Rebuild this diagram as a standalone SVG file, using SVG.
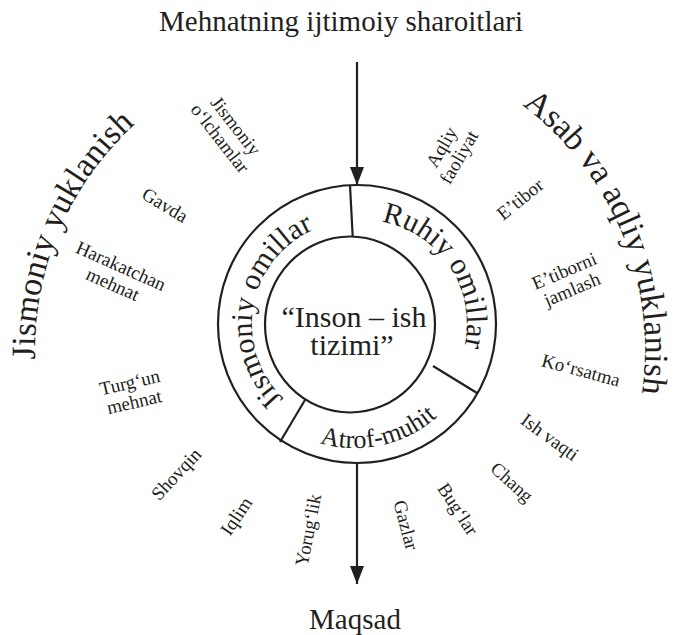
<svg xmlns="http://www.w3.org/2000/svg" width="676" height="635" viewBox="0 0 676 635">
<style>
text{font-family:"Liberation Serif","Times New Roman",serif;fill:#231f20}
.lbl{font-size:19px;text-anchor:middle}
.ring{font-size:30px}
.big{font-size:34px}
.ln{stroke:#231f20;stroke-width:2.2;fill:none}
</style>
<defs>
<marker id="ah" markerUnits="userSpaceOnUse" markerWidth="18" markerHeight="14" refX="18" refY="7" orient="auto">
<path d="M0,0 L18,7 L0,14 Z" fill="#231f20"/>
</marker>
<path id="pJO" d="M328.3,423.5 A103,103 0 0 1 364.0,221.4"/>
<path id="pRO" d="M313.4,232.6 A104,104 0 0 1 427.7,405.4"/>
<path id="pAM" d="M236.7,361.3 A124,124 0 0 0 477.9,307.8"/>
<path id="pJY" d="M96.4,533.5 A305,305 0 0 1 302.8,47.3"/>
<path id="pAY" d="M379.3,47.5 A305,305 0 0 1 582.3,535.3"/>
</defs>

<g id="title"><text x="341" y="31" font-size="29" text-anchor="middle">Mehnatning ijtimoiy sharoitlari</text></g>
<g id="goal"><text x="355" y="629" font-size="29" text-anchor="middle">Maqsad</text></g>

<g id="connectors">
<line class="ln" x1="357" y1="62" x2="357" y2="185" marker-end="url(#ah)"/>
<line class="ln" x1="357" y1="463" x2="357" y2="584" marker-end="url(#ah)"/>
</g>

<g id="ring">
<circle class="ln" cx="357" cy="324" r="139" stroke-width="2.6"/>
<ellipse class="ln" cx="350" cy="324.5" rx="85" ry="88" stroke-width="2.6"/>
<line class="ln" x1="350" y1="185.5" x2="352.7" y2="236.5"/>
<line class="ln" x1="433" y1="366" x2="477" y2="393"/>
<line class="ln" x1="305" y1="400" x2="280" y2="442"/>
</g>

<g id="center"><text x="354" y="327" font-size="30" text-anchor="middle">“Inson – ish</text><text x="352" y="355" font-size="30" text-anchor="middle">tizimi”</text></g>

<g id="jismoniy-omillar"><text class="ring"><textPath href="#pJO" startOffset="50%" text-anchor="middle">Jismoniy omillar</textPath></text></g>
<g id="ruhiy-omillar"><text class="ring"><textPath href="#pRO" startOffset="50%" text-anchor="middle">Ruhiy omillar</textPath></text></g>
<g id="atrof-muhit"><text class="ring" font-size="26"><textPath href="#pAM" startOffset="50%" text-anchor="middle" font-size="26">Atrof-muhit</textPath></text></g>

<g id="jismoniy-yuklanish"><text class="big"><textPath href="#pJY" startOffset="50%" text-anchor="middle">Jismoniy yuklanish</textPath></text></g>
<g id="asab-yuklanish"><text class="big"><textPath href="#pAY" startOffset="50%" text-anchor="middle">Asab va aqliy yuklanish</textPath></text></g>

<g id="n-olchamlar"><text class="lbl" transform="translate(228,132) rotate(52)"><tspan x="0" y="-3.5">Jismoniy</tspan><tspan x="0" y="16.5">o‘lchamlar</tspan></text></g>
<g id="n-gavda"><text class="lbl" transform="translate(165,205) rotate(31)" y="6.5">Gavda</text></g>
<g id="n-harakatchan"><text class="lbl" transform="translate(117,275) rotate(24)"><tspan x="0" y="-3.5">Harakatchan</tspan><tspan x="0" y="16.5">mehnat</tspan></text></g>
<g id="n-turgun"><text class="lbl" transform="translate(132,392) rotate(-13)"><tspan x="0" y="-3.5">Turg‘un</tspan><tspan x="0" y="16.5">mehnat</tspan></text></g>
<g id="n-shovqin"><text class="lbl" transform="translate(176,474) rotate(-47)" y="6.5">Shovqin</text></g>
<g id="n-iqlim"><text class="lbl" transform="translate(236,516) rotate(-56)" y="6.5">Iqlim</text></g>
<g id="n-yoruglik"><text class="lbl" transform="translate(308,530) rotate(-79)" y="6.5">Yorug‘lik</text></g>
<g id="n-gazlar"><text class="lbl" transform="translate(406,525) rotate(75)" y="6.5">Gazlar</text></g>
<g id="n-buglar"><text class="lbl" transform="translate(458,509) rotate(57)" y="6.5">Bug‘lar</text></g>
<g id="n-chang"><text class="lbl" transform="translate(512,482) rotate(42)" y="6.5">Chang</text></g>
<g id="n-ishvaqti"><text class="lbl" transform="translate(550,437) rotate(36)" y="6.5">Ish vaqti</text></g>
<g id="n-korsatma"><text class="lbl" transform="translate(581,370) rotate(15)" y="6.5">Ko‘rsatma</text></g>
<g id="n-etiborni"><text class="lbl" transform="translate(568,280) rotate(-23)"><tspan x="0" y="-3.5">E’tiborni</tspan><tspan x="0" y="16.5">jamlash</tspan></text></g>
<g id="n-etibor"><text class="lbl" transform="translate(520,199) rotate(-39)" y="6.5">E’tibor</text></g>
<g id="n-aqliy"><text class="lbl" transform="translate(450,152) rotate(-60)"><tspan x="0" y="-3.5">Aqliy</tspan><tspan x="0" y="16.5">faoliyat</tspan></text></g>
</svg>
